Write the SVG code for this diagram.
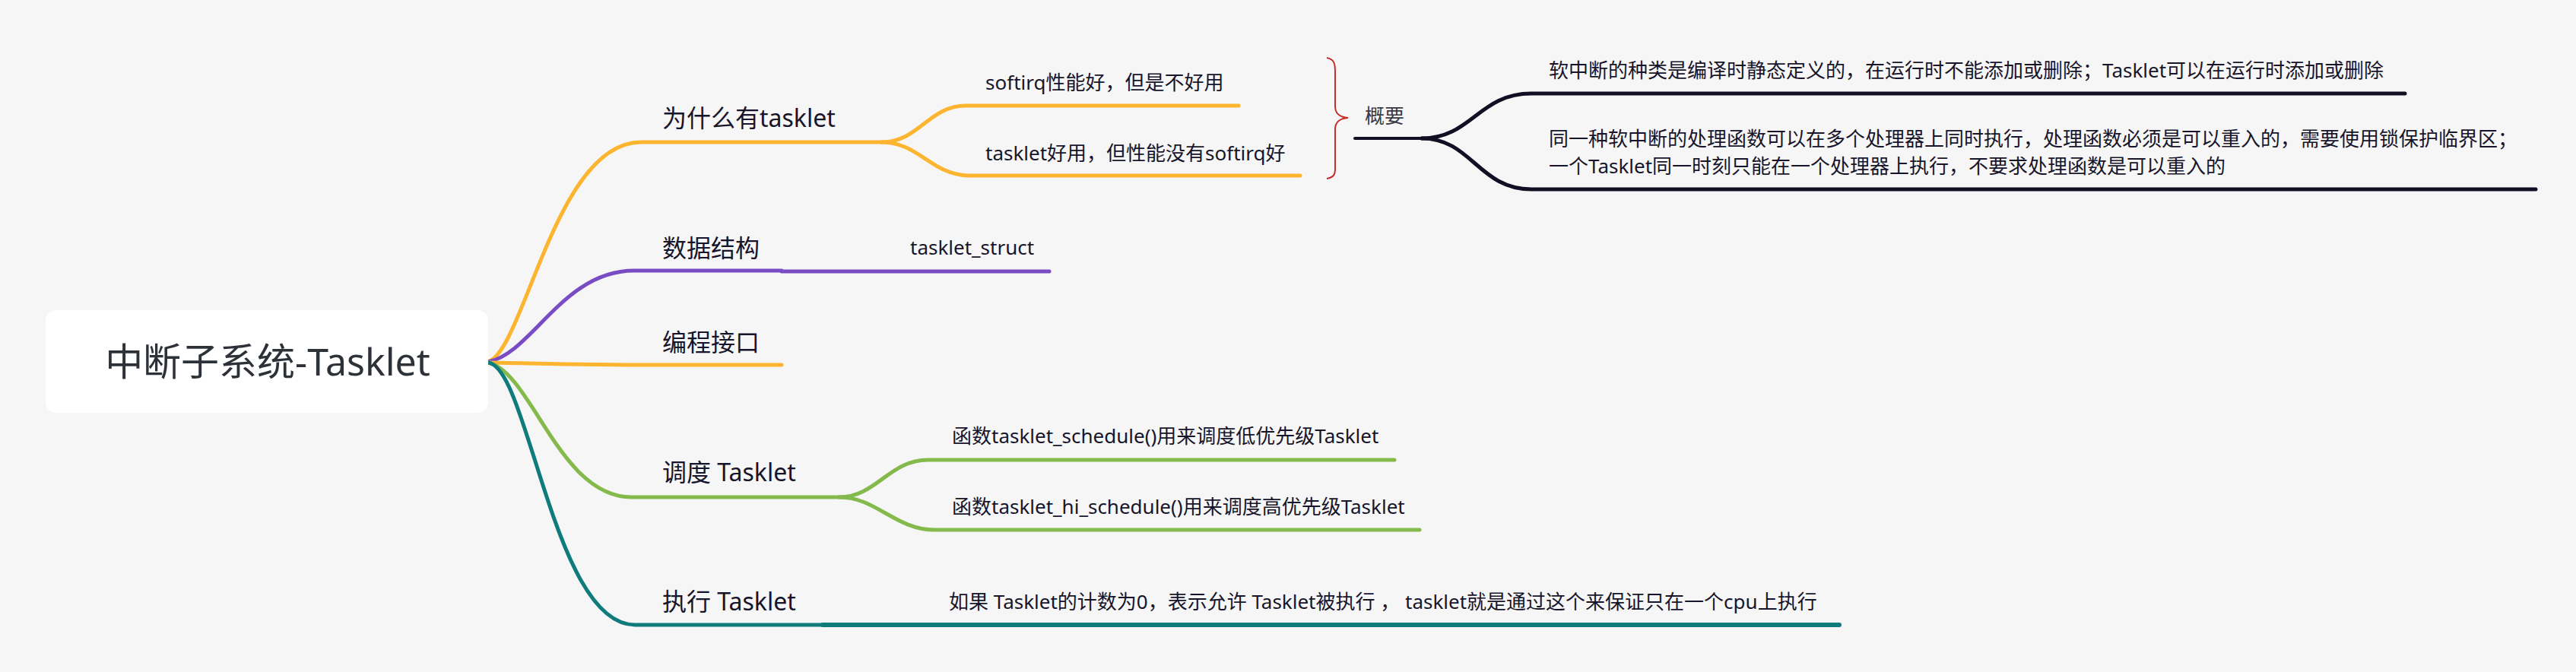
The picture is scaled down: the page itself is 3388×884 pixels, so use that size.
<svg xmlns="http://www.w3.org/2000/svg" width="3388" height="884" viewBox="0 0 3388 884">
<defs>
<style>
.t{font-family:"Noto Sans","Noto Sans CJK SC",sans-serif;fill:#16152b}
.root{font-size:50px;fill:#2d3138;text-anchor:middle}
.br{font-size:32px}
.ch{font-size:26px}
.c{fill:none;stroke-linecap:round;stroke-linejoin:round}
.or{stroke:#fdb42f;stroke-width:5}
.pu{stroke:#7a4cc4;stroke-width:5}
.gr{stroke:#84b94c;stroke-width:5}
.te{stroke:#0f7b7b;stroke-width:5}
.su{stroke:#110f24;stroke-width:5}
.brace{fill:none;stroke:#c3302b;stroke-width:2}
</style>
</defs>
<rect x="0" y="0" width="3388" height="884" fill="#f6f6f6"/>
<g id="connectors">
<path class="c or" d="M642,476 C690,460 730,187 843,187 H1160"/>
<path class="c or" d="M1160,187 C1208,187 1222,139 1270,139 H1629"/>
<path class="c or" d="M1160,187 C1208,187 1226,231 1275,231 H1710"/>
<path class="c pu" d="M642,476 C700,465 740,356 834,356 H1028"/>
<path class="c pu" d="M1028,357 H1380"/>
<path class="c or" d="M642,477 C720,478 760,480 843,480 H1028"/>
<path class="c gr" d="M642,477 C700,490 735,654 831,654 H1104"/>
<path class="c gr" d="M1104,654 C1152,654 1170,605 1220,605 H1834"/>
<path class="c gr" d="M1104,654 C1152,654 1178,697 1229,697 H1867"/>
<path class="c te" d="M642,477 C695,482 728,822 835,822 H1082"/>
<path class="c te" style="stroke-width:6" d="M1082,822 H2419"/>
<path class="brace" d="M1745,76 C1755,78 1756,84 1756,95 L1756,140 C1756,150 1762,154 1773,155 C1762,156 1756,160 1756,170 L1756,222 C1756,230 1754,233 1745,235"/>
<path class="c su" style="stroke-width:4" d="M1782,182 H1873"/>
<path class="c su" d="M1870,182 C1935,182 1945,123 2014,123 H3163"/>
<path class="c su" d="M1870,182 C1935,182 1945,249 2014,249 H3335"/>
</g>
<g id="root">
<rect x="60" y="408" width="582" height="135" rx="14" ry="14" fill="#ffffff"/>
<text class="t root" x="352" y="494">中断子系统-Tasklet</text>
</g>
<g id="why">
<text class="t br" x="871" y="167">为什么有tasklet</text>
</g>
<g id="why-1">
<text class="t ch" x="1296" y="118">softirq性能好，但是不好用</text>
</g>
<g id="why-2">
<text class="t ch" x="1296" y="211">tasklet好用，但性能没有softirq好</text>
</g>
<g id="summary">
<text class="t ch" x="1795" y="162" style="fill:#3a3a44">概要</text>
</g>
<g id="summary-1">
<text class="t ch" x="2037" y="102">软中断的种类是编译时静态定义的，在运行时不能添加或删除；Tasklet可以在运行时添加或删除</text>
</g>
<g id="summary-2">
<text class="t ch" x="2037" y="192">同一种软中断的处理函数可以在多个处理器上同时执行，处理函数必须是可以重入的，需要使用锁保护临界区；</text>
<text class="t ch" x="2037" y="228">一个Tasklet同一时刻只能在一个处理器上执行，不要求处理函数是可以重入的</text>
</g>
<g id="data">
<text class="t br" x="871" y="338">数据结构</text>
</g>
<g id="data-1">
<text class="t ch" x="1197" y="335">tasklet_struct</text>
</g>
<g id="api">
<text class="t br" x="871" y="462">编程接口</text>
</g>
<g id="sched">
<text class="t br" x="871" y="633">调度 Tasklet</text>
</g>
<g id="sched-1">
<text class="t ch" x="1252" y="583">函数tasklet_schedule()用来调度低优先级Tasklet</text>
</g>
<g id="sched-2">
<text class="t ch" x="1252" y="676">函数tasklet_hi_schedule()用来调度高优先级Tasklet</text>
</g>
<g id="exec">
<text class="t br" x="871" y="803">执行 Tasklet</text>
</g>
<g id="exec-1">
<text class="t ch" x="1248" y="801">如果 Tasklet的计数为0，表示允许 Tasklet被执行 ， tasklet就是通过这个来保证只在一个cpu上执行</text>
</g>
</svg>
